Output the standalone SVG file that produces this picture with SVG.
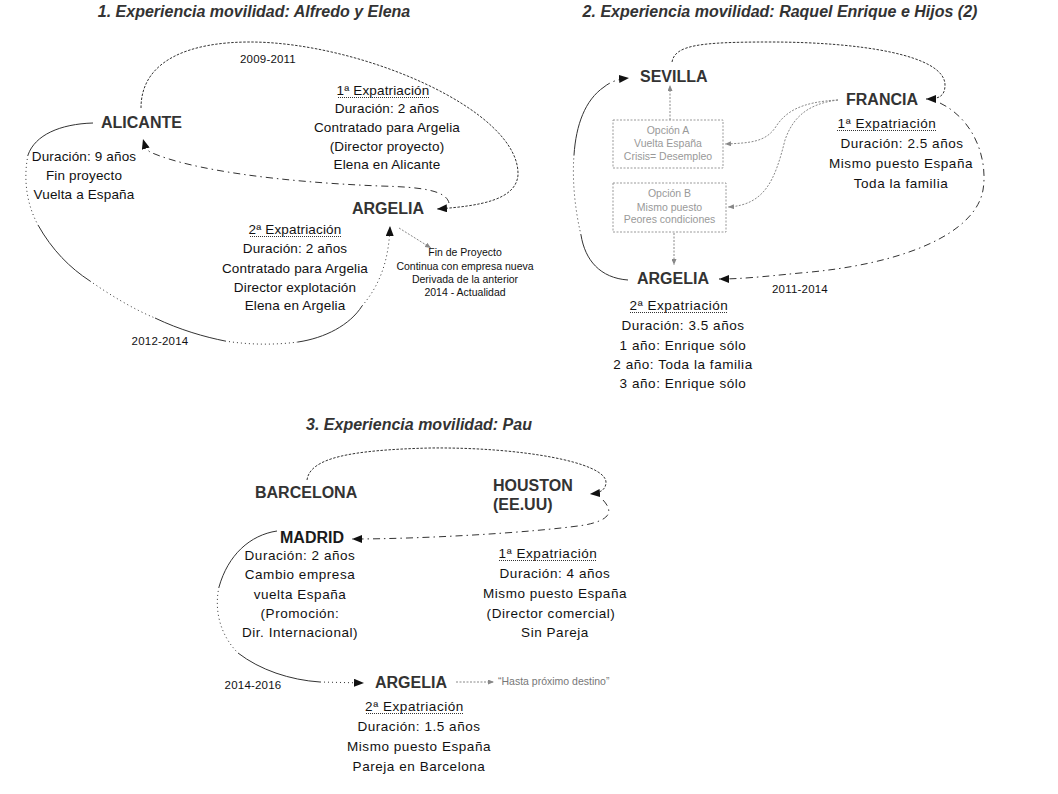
<svg xmlns="http://www.w3.org/2000/svg" width="1058" height="794" viewBox="0 0 1058 794">
<style>
text{font-family:"Liberation Sans",Arial,sans-serif}
.title{font-size:16px;font-weight:bold;font-style:italic;fill:#333;text-anchor:middle}
.node{font-size:16px;font-weight:bold;fill:#333}
.body{font-size:13.5px;fill:#111;text-anchor:middle;letter-spacing:0.15px}
.sp{letter-spacing:0.55px}
.yr{font-size:11.5px;fill:#111;text-anchor:middle;letter-spacing:0.2px}
.small{font-size:10.5px;fill:#111;text-anchor:middle}
.opt{font-size:10.5px;fill:#999;text-anchor:middle}
.note{font-size:10.5px;fill:#777}
.c{fill:none;stroke:#333;stroke-width:1}
.dash{stroke-dasharray:2.5 1.5}
.dot{stroke-dasharray:1 3}
.dd{stroke-dasharray:7 4 1.5 4}
.g{fill:none;stroke:#888;stroke-width:1;stroke-dasharray:2 1.5}
.ul{stroke:#333;stroke-width:1;stroke-dasharray:1 1}
.box{fill:#fff;stroke:#999;stroke-width:1;stroke-dasharray:2 1.5}
</style>
<defs>
<marker id="ah" markerWidth="10" markerHeight="8" refX="10" refY="4" orient="auto" markerUnits="userSpaceOnUse"><path d="M0,0 L10,4 L0,8 z" fill="#111"/></marker>
<marker id="gh" markerWidth="6" markerHeight="5" refX="6" refY="2.5" orient="auto" markerUnits="userSpaceOnUse"><path d="M0,0 L6,2.5 L0,5 z" fill="#888"/></marker>
</defs>
<rect width="1058" height="794" fill="#fff"/>

<!-- Titles -->
<text class="title" x="254" y="17">1. Experiencia movilidad: Alfredo y Elena</text>
<text class="title" x="780" y="17">2. Experiencia movilidad: Raquel Enrique e Hijos (2)</text>
<text class="title" x="419" y="430">3. Experiencia movilidad: Pau</text>

<!-- Connectors -->
<g id="connectors">
 <!-- Section 1 -->
 <path class="c dash" d="M141,108 C141,60 190,42 250,42 C360,42 520,110 518,175 C516,200 480,206 437,209" marker-end="url(#ah)"/>
 <path class="c dd" d="M449,203 C446,190 420,187 380,186 C280,182 190,170 150,152 C147,150 145,146 143,139" marker-end="url(#ah)"/>
 <path class="c" d="M93,123 C60,124 35,135 28,155"/>
 <path class="c dot" d="M28,155 C23,180 27,205 38,225"/>
 <path class="c" d="M38,225 C52,250 70,268 90,281"/>
 <path class="c dot" d="M90,281 C110,295 135,310 155,318"/>
 <path class="c" d="M155,318 C180,330 205,337 225,341"/>
 <path class="c dot" d="M225,341 C250,345 275,345 298,342"/>
 <path class="c" d="M298,342 C325,338 350,325 362,306"/>
 <path class="c dot" d="M362,306 C380,285 389,260 390,226" marker-end="url(#ah)"/>
 <path class="g" d="M399,228 L431,248" marker-end="url(#gh)"/>
 <!-- Section 2 -->
 <path class="c dash" d="M672,62 C675,45 700,42 770,42 C860,42 945,55 945,85 C945,97 938,99 926,99" marker-end="url(#ah)"/>
 <path class="c dd" d="M940,103 C975,120 988,160 983,190 C975,235 900,265 800,273 C760,277 740,279 719,279" marker-end="url(#ah)"/>
 <path class="c" d="M628,280 C600,278 585,260 581,235"/>
 <path class="c dot" d="M581,235 C575,210 572,180 574,155"/>
 <path class="c" d="M574,155 C576,125 585,100 604,87"/>
 <path class="c dd" d="M604,87 C610,82 618,79 629,78" marker-end="url(#ah)"/>
 <path class="g" d="M670,120 L670,85" marker-end="url(#gh)"/>
 <path class="g" d="M674,233 L674,265" marker-end="url(#gh)"/>
 <path class="g" d="M838,100 C800,102 785,112 775,128 C765,142 750,143 725,144" marker-end="url(#gh)"/>
 <path class="g" d="M838,100 C805,104 792,120 785,140 C775,180 765,205 728,207" marker-end="url(#gh)"/>
 <!-- Section 3 -->
 <path class="c dash" d="M307,480 C310,458 350,450 430,448 C520,447 605,462 606,482 C606,490 600,493 590,494" marker-end="url(#ah)"/>
 <path class="c dd" d="M603,500 C614,512 610,520 585,525 C530,533 420,539 352,539" marker-end="url(#ah)"/>
 <path class="c" d="M277,531 C250,535 228,555 219,587"/>
 <path class="c dot" d="M219,587 C214,610 220,635 238,653"/>
 <path class="c" d="M238,653 C260,670 290,680 320,682"/>
 <path class="c dot" d="M320,682 L364,683" marker-end="url(#ah)"/>
 <path class="g" d="M456,682 L494,682" marker-end="url(#gh)"/>
</g>

<!-- Section 1 nodes -->
<g id="alicante">
 <text class="node" x="101" y="128">ALICANTE</text>
 <text class="body" x="84" y="161">Duración: 9 años</text>
 <text class="body" x="84" y="180">Fin proyecto</text>
 <text class="body" x="84" y="199">Vuelta a España</text>
</g>
<g id="argelia1">
 <text class="node" x="352" y="214">ARGELIA</text>
</g>
<g id="expat1-1">
 <text class="yr" x="268" y="63">2009-2011</text>
 <text class="body" x="383" y="95">1ª Expatriación</text>
 <line class="ul" x1="338" y1="97.5" x2="429" y2="97.5"/>
 <text class="body" x="387" y="113">Duración: 2 años</text>
 <text class="body" x="387" y="132">Contratado para Argelia</text>
 <text class="body" x="387" y="150.5">(Director proyecto)</text>
 <text class="body" x="387" y="168.5">Elena en Alicante</text>
</g>
<g id="expat1-2">
 <text class="body" x="295" y="234">2ª Expatriación</text>
 <line class="ul" x1="250" y1="236.5" x2="341" y2="236.5"/>
 <text class="body" x="295" y="253">Duración: 2 años</text>
 <text class="body" x="295" y="273">Contratado para Argelia</text>
 <text class="body" x="295" y="292">Director explotación</text>
 <text class="body" x="295" y="310">Elena en Argelia</text>
 <text class="yr" x="160" y="345">2012-2014</text>
</g>
<g id="fin-proyecto">
 <text class="small" x="465" y="256">Fin de Proyecto</text>
 <text class="small" x="465" y="269.5">Continua con empresa nueva</text>
 <text class="small" x="465" y="283">Derivada de la anterior</text>
 <text class="small" x="465" y="296">2014 - Actualidad</text>
</g>

<!-- Section 2 nodes -->
<g id="sevilla">
 <text class="node" x="640" y="82">SEVILLA</text>
</g>
<g id="francia">
 <text class="node" x="846" y="105">FRANCIA</text>
 <text class="body sp" x="887" y="128">1ª Expatriación</text>
 <line class="ul" x1="837" y1="130.5" x2="936" y2="130.5"/>
 <text class="body sp" x="902" y="148">Duración: 2.5 años</text>
 <text class="body sp" x="901" y="168">Mismo puesto España</text>
 <text class="body sp" x="901" y="188">Toda la familia</text>
</g>
<g id="opcion-a">
 <rect class="box" x="613" y="120" width="110" height="48"/>
 <text class="opt" x="668" y="134">Opción A</text>
 <text class="opt" x="668" y="147">Vuelta España</text>
 <text class="opt" x="668" y="160">Crisis= Desempleo</text>
</g>
<g id="opcion-b">
 <rect class="box" x="613" y="183" width="113" height="49"/>
 <text class="opt" x="669.5" y="197">Opción B</text>
 <text class="opt" x="669.5" y="210.5">Mismo puesto</text>
 <text class="opt" x="669.5" y="223">Peores condiciones</text>
</g>
<g id="argelia2">
 <text class="node" x="637" y="284">ARGELIA</text>
 <text class="yr" x="800" y="293">2011-2014</text>
 <text class="body sp" x="679" y="310">2ª Expatriación</text>
 <line class="ul" x1="630" y1="312.5" x2="728" y2="312.5"/>
 <text class="body sp" x="683" y="330">Duración: 3.5 años</text>
 <text class="body sp" x="683" y="350">1 año: Enrique sólo</text>
 <text class="body sp" x="683" y="369">2 año: Toda la familia</text>
 <text class="body sp" x="683" y="388">3 año: Enrique sólo</text>
</g>

<!-- Section 3 nodes -->
<g id="barcelona">
 <text class="node" x="255" y="498">BARCELONA</text>
</g>
<g id="houston">
 <text class="node" x="493" y="491">HOUSTON</text>
 <text class="node" x="493" y="510">(EE.UU)</text>
 <text class="body sp" x="548" y="558">1ª Expatriación</text>
 <line class="ul" x1="499" y1="560.5" x2="597" y2="560.5"/>
 <text class="body sp" x="555" y="578">Duración: 4 años</text>
 <text class="body sp" x="555" y="598">Mismo puesto España</text>
 <text class="body sp" x="551" y="618">(Director comercial)</text>
 <text class="body sp" x="555" y="637">Sin Pareja</text>
</g>
<g id="madrid">
 <text class="node" x="280" y="543" style="fill:#1a1a1a">MADRID</text>
 <text class="body sp" x="300" y="560">Duración: 2 años</text>
 <text class="body sp" x="300" y="579">Cambio empresa</text>
 <text class="body sp" x="300" y="599">vuelta España</text>
 <text class="body sp" x="300" y="618">(Promoción:</text>
 <text class="body sp" x="300" y="637">Dir. Internacional)</text>
</g>
<g id="argelia3">
 <text class="node" x="375" y="688">ARGELIA</text>
 <text class="yr" x="253" y="689">2014-2016</text>
 <text class="note" x="498" y="685">“Hasta próximo destino”</text>
 <text class="body sp" x="414.5" y="711">2ª Expatriación</text>
 <line class="ul" x1="366" y1="713.5" x2="463" y2="713.5"/>
 <text class="body sp" x="419" y="731">Duración: 1.5 años</text>
 <text class="body sp" x="419" y="751">Mismo puesto España</text>
 <text class="body sp" x="419" y="771">Pareja en Barcelona</text>
</g>
</svg>
